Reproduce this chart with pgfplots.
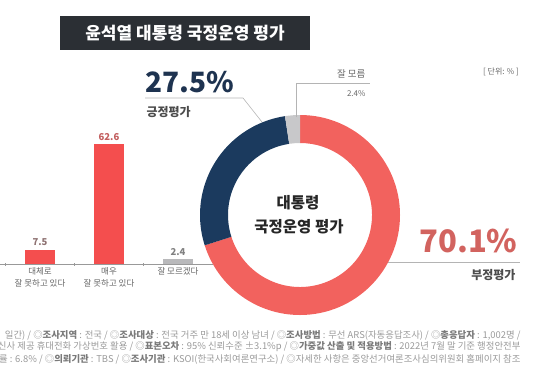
\documentclass[border=0pt]{standalone}
\usepackage{pgfplots}
\pgfplotsset{compat=1.18}
\usepackage{fontspec}
\setmainfont{Noto Sans CJK KR}
\definecolor{barred}{HTML}{F44E4E}
\definecolor{ringred}{HTML}{F2625E}
\definecolor{navy}{HTML}{1B3A5E}
\definecolor{lgray}{HTML}{C8C8CA}
\definecolor{titlebg}{HTML}{2B2F34}
\definecolor{txtgray}{HTML}{666666}
\definecolor{linegray}{HTML}{B4B4B4}
\definecolor{pctred}{HTML}{D2635F}
\definecolor{pctnavy}{HTML}{1E3350}
\definecolor{lblbrown}{HTML}{8E7272}
\definecolor{lblred}{HTML}{C25E5E}
\definecolor{footgray}{HTML}{9A9A9A}
\definecolor{footdark}{HTML}{7A7A7A}
\newcommand{\fs}[1]{\fontsize{#1}{#1}\selectfont}
\newcommand{\seg}[3]{%
  \fill[#3] (axis cs:0,0) ++(#1:100pt) arc[start angle=#1, end angle=#2, radius=100pt]
    -- ++(#2:-28pt) arc[start angle=#2, end angle=#1, radius=72pt] -- cycle;}
\begin{document}
\begin{tikzpicture}
\path[use as bounding box] (0pt,0pt) rectangle (540pt,-381pt);
\begin{scope}
\clip (0pt,0pt) rectangle (540pt,-381pt);
% title
\fill[titlebg] (60pt,-16pt) rectangle (310pt,-50pt);
\node[text=white,font=\fs{17}\bfseries] at (185pt,-33pt) {윤석열 대통령 국정운영 평가};
\node[text=txtgray,font=\fs{8}] at (501pt,-72pt) {[ 단위: \% ]};
% bar chart
\begin{axis}[at={(0pt,-264pt)}, anchor=south west, scale only axis,
  width=213.2pt, height=134.4pt,
  xmin=-0.58, xmax=2.51, ymin=0, ymax=70,
  axis x line*=bottom, axis y line=none,
  ybar, bar width=30pt, /pgf/bar shift=0pt,
  /pgf/number format/assume math mode=true,
  /pgf/number format/fixed, /pgf/number format/precision=1,
  xtick={0,1,2},
  xticklabels={{대체로\\잘 못하고 있다},{매우\\잘 못하고 있다},{잘 모르겠다}},
  xticklabel style={align=center, font=\fontsize{8.5}{12}\selectfont, text=txtgray},
  major tick length=0pt,
  minor xtick={-0.5,0.5,1.5}, minor tick length=3pt, tick align=center,
  every minor tick/.style={draw=gray!80},
  x axis line style={draw=gray!80, -},
  nodes near coords,
  every node near coord/.append style={font=\fs{9.5}\bfseries},
  clip=false]
\addplot[fill=barred, draw=none, every node near coord/.append style={text=lblbrown}] coordinates {(0,7.5)};
\addplot[fill=barred, draw=none, every node near coord/.append style={text=lblred}] coordinates {(1,62.6)};
\addplot[fill=lgray!80!gray, draw=none, every node near coord/.append style={text=gray}] coordinates {(2,2.4)};
\end{axis}
% donut
\pgfmathsetmacro\aA{90}
\pgfmathsetmacro\aB{90-3.6*70.1}
\pgfmathsetmacro\aC{\aB-3.6*27.5}
\pgfmathsetmacro\aD{\aC-3.6*2.4}
\begin{axis}[at={(300pt,-215pt)}, anchor=center, scale only axis,
  width=200pt, height=200pt, xmin=-1, xmax=1, ymin=-1, ymax=1,
  hide axis, clip=false]
\addplot[draw=none, mark=none] coordinates {(0,0)};
\seg{\aA}{\aB}{ringred}
\seg{\aB}{\aC}{navy}
\seg{\aC}{\aD}{lgray}
\end{axis}
\node[text=black!85,font=\fs{15.5}\bfseries] at (298pt,-203pt) {대통령};
\node[text=black!85,font=\fs{15.5}\bfseries] at (299pt,-227pt) {국정운영 평가};
% leaders and labels
\draw[linegray, line width=0.6pt] (145pt,-98pt) -- (243pt,-98pt) -- (262pt,-122pt);
\node[anchor=west,text=pctnavy,font=\fs{28}\bfseries] at (142pt,-82pt) {27.5\%};
\node[anchor=west,text=black!70,font=\fs{12}\bfseries] at (143pt,-112pt) {긍정평가};
\draw[linegray, line width=0.6pt] (296pt,-117pt) -- (296pt,-83pt) -- (370pt,-83pt);
\node[anchor=east,text=txtgray,font=\fs{9.5}] at (369pt,-74pt) {잘 모름};
\node[anchor=east,text=txtgray,font=\fs{8}] at (369pt,-94pt) {2.4\%};
\draw[linegray, line width=0.6pt] (388pt,-262pt) -- (520pt,-262pt);
\node[anchor=east,text=pctred,font=\fs{31}\bfseries] at (521pt,-241pt) {70.1\%};
\node[anchor=east,text=black!70,font=\fs{12}\bfseries] at (519pt,-275pt) {부정평가};
% footer
\node[anchor=east,text=footgray,font=\fs{9.4}] at (524pt,-335pt) {일간) / ◎{\color{footdark}\bfseries 조사지역} : 전국 / ◎{\color{footdark}\bfseries 조사대상} : 전국 거주 만 18세 이상 남녀 / ◎{\color{footdark}\bfseries 조사방법} : 무선 ARS(자동응답조사) / ◎{\color{footdark}\bfseries 총응답자} : 1,002명 /};
\node[anchor=east,text=footgray,font=\fs{9.4}] at (524pt,-347pt) {통신사 제공 휴대전화 가상번호 활용 / ◎{\color{footdark}\bfseries 표본오차} : 95\% 신뢰수준 ±3.1\%p / ◎{\color{footdark}\bfseries 가중값 산출 및 적용방법} : 2022년 7월 말 기준 행정안전부};
\node[anchor=east,text=footgray,font=\fs{9.4}] at (524pt,-359pt) {응답률 : 6.8\% / ◎{\color{footdark}\bfseries 의뢰기관} : TBS / ◎{\color{footdark}\bfseries 조사기관} : KSOI(한국사회여론연구소) / ◎자세한 사항은 중앙선거여론조사심의위원회 홈페이지 참조};
\end{scope}
\end{tikzpicture}
\end{document}
